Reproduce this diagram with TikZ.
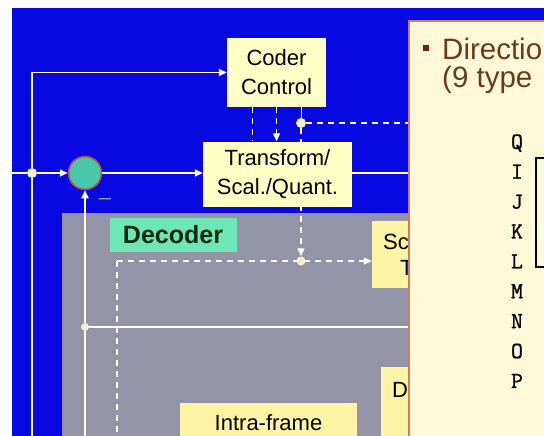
\documentclass[tikz,border=0pt]{standalone}
\usepackage{fontspec}
\setmainfont{Liberation Sans}
\newfontfamily\letterfont{Latin Modern Mono}[FakeBold=1.2]
\usetikzlibrary{arrows.meta, positioning, calc, backgrounds}
\pgfdeclarelayer{backdrop}
\pgfsetlayers{backdrop,background,main}
\definecolor{encblue}{HTML}{0808E2}
\definecolor{decgray}{HTML}{9494A8}
\definecolor{boxyellow}{HTML}{FFFFC6}
\definecolor{decyellow}{HTML}{FFF4A6}
\definecolor{declabel}{HTML}{6EE6B6}
\definecolor{decink}{HTML}{0B2A10}
\definecolor{panelcream}{HTML}{FFF9DA}
\definecolor{paneledge}{HTML}{C9825E}
\definecolor{panelbrown}{HTML}{6A3A1E}
\definecolor{bulletred}{HTML}{7A1A12}
\definecolor{sumgreen}{HTML}{48C8A8}
\definecolor{sumred}{HTML}{C04A3A}
\definecolor{dotcream}{HTML}{F2EED0}

\begin{document}
\begin{tikzpicture}[x=1pt, y=-1pt,
    node distance=16pt,
    blk/.style={rectangle, fill=boxyellow, inner sep=0pt, align=center, font=\fontsize{22}{29}\selectfont},
    dblk/.style={blk, fill=decyellow},
    txt/.style={inner sep=0pt, anchor=west, font=\fontsize{22}{22}\selectfont},
    w/.style={white, line width=1.8pt},
    wd/.style={white, line width=1.4pt, dash pattern=on 6pt off 5pt},
    tip/.style={-{Triangle[length=8pt, width=7pt]}},
    dot/.style={circle, fill=dotcream, inner sep=0pt, minimum size=10pt},
    lt/.style={font=\letterfont\fontsize{23}{23}\selectfont, inner sep=0pt, text height=13.5pt, text depth=0pt}
  ]
  \useasboundingbox (0,0) rectangle (544,436);
  \clip (0,0) rectangle (544,436);
  \begin{pgfonlayer}{backdrop}
    \fill[encblue] (12,8) rectangle (544,436);
    \fill[decgray] (62,213) rectangle (409,436);
  \end{pgfonlayer}

  \node[blk, minimum width=99pt, minimum height=69pt] (cc) at (276.5,72.5) {Coder\\Control};
  \node[blk, minimum width=149pt, minimum height=65pt] (tsq) at (277.5,174) {Transform/\\Scal./Quant.};
  \node[circle, fill=sumgreen, draw=sumred, line width=1.5pt, minimum size=33pt, inner sep=0pt] (sum) at (85,173) {};
  \node[font=\fontsize{22}{22}\selectfont\bfseries, inner sep=0pt, text=white] (minus) at (105,199) {$-$};

  \node[fill=declabel, minimum width=127pt, minimum height=34pt, inner sep=0pt, text=decink,
        font=\fontsize{25}{25}\selectfont\bfseries] (dec) at (173,235) {Decoder};
  \node[dblk, minimum width=45pt, minimum height=67pt] (sct) at (394.5,254.5) {};
  \node[dblk, minimum width=36pt, minimum height=79pt] (dbox) at (399,406.5) {};
  \node[dblk, minimum width=177pt, minimum height=40pt] (intra) at (268.5,423) {Intra-frame};
  \node[txt] (sc) at (383,242) {Sc};
  \node[txt] (tt) at (400,268) {T};
  \node[txt] (dd) at (392,390) {D};

  \node[dot] (j1) at (32,173) {};
  \node[dot, minimum size=8pt] (j2) at (85,327) {};
  \node[dot] (cd) at (301,123) {};
  \node[dot, minimum size=9pt] (md) at (301,261) {};
  \coordinate (in) at (12,173);
  \coordinate (bl) at (32,436);
  \coordinate (fb) at (85,436);
  \coordinate (pr0) at (409,123);
  \coordinate (pr1) at (409,173);
  \coordinate (pr2) at (409,327);
  \coordinate (dl) at (117,261);
  \coordinate (dlb) at (117,436);

  \begin{scope}[on background layer]
    \draw[w] (in) -- (j1);
    \draw[w, tip] (j1) -- (sum);
    \draw[w, tip] (j1) |- (cc);
    \draw[w] (j1) -- (bl);
    \draw[w, tip] (sum) -- (sum -| tsq.west);
    \draw[w] (sum -| tsq.east) -- (pr1);
    \draw[w, tip] (fb) -- (sum);
    \draw[w] (j2) -- (pr2);
    \draw[wd] ([xshift=-24pt]cc.south) -- ([xshift=-24pt]cc.south |- tsq.north);
    \draw[wd, tip] (cc.south) -- (cc.south |- tsq.north);
    \draw[white, line width=1pt] (cd |- cc.south) -- (cd);
    \draw[wd] (cd) -- (pr0);
    \draw[wd, tip] (cd) -- (md);
    \draw[wd] (dl) -- (dlb);
    \draw[wd, tip] (dl) -- (dl -| sct.west);
  \end{scope}

  \filldraw[fill=panelcream, draw=paneledge, line width=2pt] (409,21) rectangle (560,450);
  \node[fill=bulletred, minimum size=5.5pt, inner sep=0pt] (bul) at (426,48) {};
  \node[anchor=base west, inner sep=0pt, text=panelbrown, font=\fontsize{29.5}{29.5}\selectfont] (t1) at (442,60) {Directio};
  \node[anchor=base west, inner sep=0pt, text=panelbrown, font=\fontsize{29.5}{29.5}\selectfont] (t2) at (442,88) {(9 type};

  \node[lt] (q) at (517,142) {Q};
  \node[lt] (i) [below=of q] {I};
  \node[lt] (j) [below=of i] {J};
  \node[lt] (k) [below=of j] {K};
  \node[lt] (l) [below=of k] {L};
  \node[lt] (m) [below=of l] {M};
  \node[lt] (n) [below=of m] {N};
  \node[lt] (o) [below=of n] {O};
  \node[lt] (p) [below=of o] {P};
  \coordinate (bt) at (545,158);
  \coordinate (bb) at (545,267);
  \draw[line width=1.2pt] (bt) -- ++(-9,0) |- (bb);
\end{tikzpicture}
\end{document}
